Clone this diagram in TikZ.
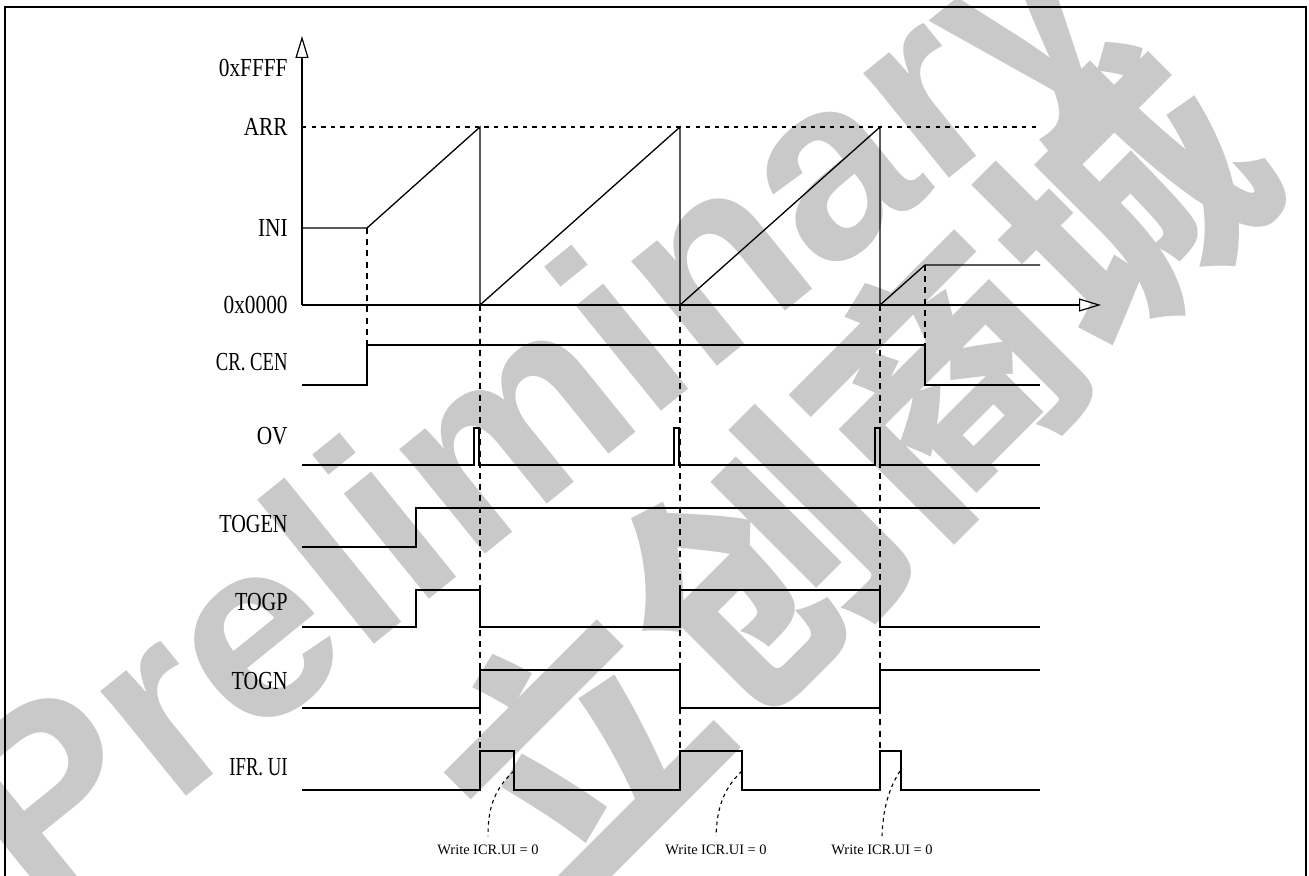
\documentclass[tikz,border=0pt]{standalone}
\usepackage{fontspec}
\setmainfont{Liberation Serif}
\newfontfamily\wmfont{Liberation Sans}
\newfontfamily\cjk{Noto Sans CJK SC}
\usetikzlibrary{arrows.meta}
\begin{document}
\begin{tikzpicture}[x=0.5pt,y=-0.5pt,
  sig/.style={line width=0.65pt, line join=miter},
  guide/.style={line width=0.6pt, dash pattern=on 3pt off 2.6pt},
  arrline/.style={line width=0.55pt, dash pattern=on 2.2pt off 2.6pt},
  lbl/.style={anchor=east, inner sep=0pt, font=\fontsize{13}{13}\selectfont},
  note/.style={inner sep=0pt, font=\fontsize{7.2}{8}\selectfont},
  wm/.style={text=black!21, inner sep=0pt},
  axis/.style={line width=0.6pt, -{Triangle[open, length=11pt, width=6.5pt]}},
  curly/.style={line width=0.55pt, dash pattern=on 1.8pt off 1.8pt}]
\useasboundingbox (0,0) rectangle (1309,876);
% watermark
\node[wm, rotate=39, font=\wmfont\bfseries\fontsize{128}{128}\selectfont] (wm1) at (540,425) {Preliminary};
\node[wm, rotate=45, font=\cjk\bfseries\fontsize{130}{130}\selectfont] (wm2) at (850,475) {立创商城};
% frame
\draw[line width=1.1pt] (5,7) rectangle (1306,880);
% labels
\node[lbl] (l1) at (288,68) {\scalebox{0.82}[1]{0xFFFF}};
\node[lbl] (l2) at (288,127) {\scalebox{0.82}[1]{ARR}};
\node[lbl] (l3) at (288,228) {\scalebox{0.82}[1]{INI}};
\node[lbl] (l4) at (288,305) {\scalebox{0.82}[1]{0x0000}};
\node[lbl] (l5) at (288,362) {\scalebox{0.72}[1]{CR. CEN}};
\node[lbl] (l6) at (288,436) {\scalebox{0.82}[1]{OV}};
\node[lbl] (l7) at (288,524) {\scalebox{0.78}[1]{TOGEN}};
\node[lbl] (l8) at (288,602) {\scalebox{0.78}[1]{TOGP}};
\node[lbl] (l9) at (288,681) {\scalebox{0.78}[1]{TOGN}};
\node[lbl] (l10) at (288,767) {\scalebox{0.72}[1]{IFR. UI}};
% axes
\coordinate (o) at (302,305);
\coordinate (ytop) at (302,36);
\coordinate (xend) at (1101,305);
\draw[axis] (o) -- (ytop);
\draw[axis] (o) -- (xend);
% ARR dashed
\draw[arrline] (302,127) -- (1040,127);
% counter
\draw[sig] (302,228) -- (367,228) -- (480,127) -- (480,305)
  -- (680,127) -- (680,305) -- (880,127) -- (880,305) -- (925,265) -- (1040,265);
% guides
\draw[guide] (367,228) -- (367,345);
\draw[guide] (925,265) -- (925,345);
\foreach \x in {480,680,880} \draw[guide] (\x,305) -- (\x,790);
% CR.CEN
\draw[sig] (302,385) -- (367,385) -- (367,345) -- (925,345) -- (925,385) -- (1040,385);
% OV
\draw[sig] (302,465) -- (474,465) -- (474,428) -- (479,428) -- (479,465)
  -- (674,465) -- (674,428) -- (679,428) -- (679,465)
  -- (875,465) -- (875,428) -- (880,428) -- (880,465) -- (1040,465);
% TOGEN
\draw[sig] (302,547) -- (416,547) -- (416,508) -- (1040,508);
% TOGP
\draw[sig] (302,627) -- (416,627) -- (416,590) -- (480,590) -- (480,627)
  -- (680,627) -- (680,590) -- (880,590) -- (880,627) -- (1040,627);
% TOGN
\draw[sig] (302,708) -- (480,708) -- (480,670) -- (680,670) -- (680,708)
  -- (880,708) -- (880,670) -- (1040,670);
% IFR.UI
\draw[sig] (302,790) -- (480,790) -- (480,751) -- (514,751) -- (514,790)
  -- (680,790) -- (680,751) -- (742,751) -- (742,790)
  -- (880,790) -- (880,751) -- (901,751) -- (901,790) -- (1040,790);
% notes
\node[note] (n1) at (488,850) {Write ICR.UI = 0};
\node[note] (n2) at (716,850) {Write ICR.UI = 0};
\node[note] (n3) at (882,850) {Write ICR.UI = 0};
\coordinate (c1) at (514,771);
\coordinate (c2) at (742,771);
\coordinate (c3) at (900,771);
\draw[curly] (c1) .. controls (493,790) and (488,810) .. (n1.north |- 0,836);
\draw[curly] (c2) .. controls (722,790) and (717,810) .. (n2.north |- 0,836);
\draw[curly] (c3) .. controls (888,790) and (883,810) .. (n3.north |- 0,836);
\end{tikzpicture}
\end{document}
